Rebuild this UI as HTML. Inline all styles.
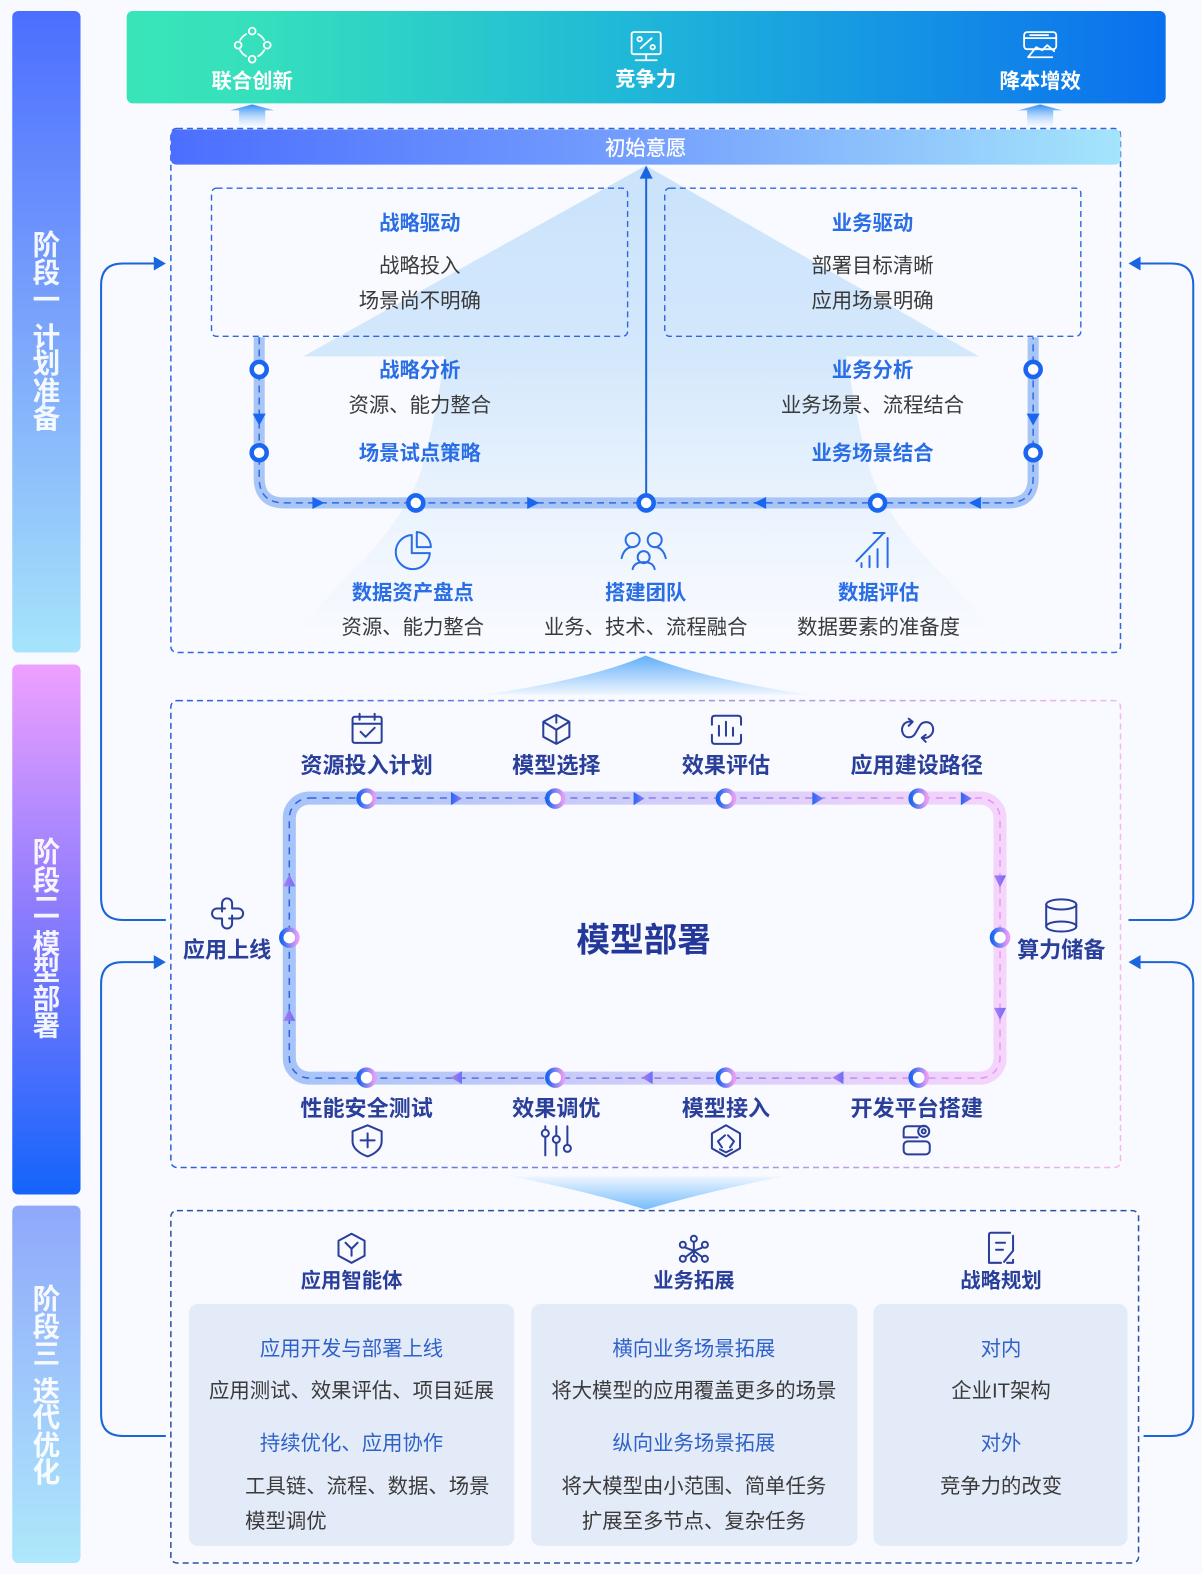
<!DOCTYPE html>
<html><head><meta charset="utf-8"><style>
html,body{margin:0;padding:0;background:#f8faff;width:1202px;height:1574px;overflow:hidden}
svg{display:block}
text{font-family:"Liberation Sans","Noto Sans CJK SC",sans-serif;text-anchor:middle;dominant-baseline:central;transform:translateY(1.4px)}
.b{font-size:20.3px;fill:#3a3a3a}
.h{font-size:20.3px;font-weight:700;fill:#2a6ee6}
.n{font-size:22px;font-weight:700;fill:#2a3f9a}
.t{font-size:20.3px;fill:#2f62c8}
.w{font-size:20.3px;font-weight:700;fill:#fff}
.s{font-size:27.5px;font-weight:700;fill:#fff;fill-opacity:.92;transform:none}
.i{fill:none;stroke:#2a3f9a;stroke-width:2;stroke-linecap:round;stroke-linejoin:round}
.ib{fill:none;stroke:#2a6ee6;stroke-width:2;stroke-linecap:round;stroke-linejoin:round}
.iw{fill:none;stroke:#fff;stroke-width:1.8;stroke-linecap:round;stroke-linejoin:round}
.r1{fill:#fff;stroke:#1a66f0;stroke-width:4.5}
.r2{fill:#fff;stroke:url(#rg);stroke-width:4.5}
</style></head><body>
<svg width="1202" height="1574" viewBox="0 0 1197 1568" xmlns="http://www.w3.org/2000/svg">
<defs>
<linearGradient id="s1" x1="0" y1="0" x2="0" y2="1"><stop offset="0" stop-color="#4c6eff"/><stop offset=".5" stop-color="#7ba5fb"/><stop offset="1" stop-color="#a6e4fb"/></linearGradient>
<linearGradient id="s2" x1="0" y1="0" x2="0" y2="1"><stop offset="0" stop-color="#eea0ff"/><stop offset=".45" stop-color="#8f7dfd"/><stop offset="1" stop-color="#1464fb"/></linearGradient>
<linearGradient id="s3" x1="0" y1="0" x2="0" y2="1"><stop offset="0" stop-color="#8fa8fb"/><stop offset="1" stop-color="#aee8fb"/></linearGradient>
<linearGradient id="top" x1="0" y1="0" x2="1" y2="0"><stop offset="0" stop-color="#38e5b8"/><stop offset=".12" stop-color="#36e0bc"/><stop offset=".5" stop-color="#1fb6d9"/><stop offset="1" stop-color="#0a70ee"/></linearGradient>
<linearGradient id="hd" x1="0" y1="0" x2="1" y2="0"><stop offset="0" stop-color="#4c6eff"/><stop offset=".5" stop-color="#75a0fd"/><stop offset="1" stop-color="#a5e5fb"/></linearGradient>
<linearGradient id="up" x1="0" y1="0" x2="0" y2="1"><stop offset="0" stop-color="#2e8df5"/><stop offset="1" stop-color="#f0f6ff" stop-opacity=".4"/></linearGradient>
<linearGradient id="big" gradientUnits="userSpaceOnUse" x1="0" y1="165" x2="0" y2="640"><stop offset="0" stop-color="#cae3fb"/><stop offset=".4" stop-color="#d4e8fc"/><stop offset=".65" stop-color="#e6f1fd"/><stop offset=".85" stop-color="#f2f7fe"/><stop offset="1" stop-color="#f8faff"/></linearGradient>
<linearGradient id="a1" x1="0" y1="0" x2="0" y2="1"><stop offset="0" stop-color="#62aefa"/><stop offset="1" stop-color="#eef6ff"/></linearGradient>
<linearGradient id="a2" x1="0" y1="0" x2="0" y2="1"><stop offset="0" stop-color="#eef6ff"/><stop offset="1" stop-color="#74bcfb"/></linearGradient>
<linearGradient id="fr" gradientUnits="userSpaceOnUse" x1="170" y1="0" x2="1116" y2="0"><stop offset="0" stop-color="#2a5fd8"/><stop offset="1" stop-color="#f6b8ea"/></linearGradient>
<linearGradient id="lp" gradientUnits="userSpaceOnUse" x1="282" y1="0" x2="1002" y2="0"><stop offset="0" stop-color="#a6c4f8"/><stop offset=".5" stop-color="#d0cdf9"/><stop offset="1" stop-color="#f6d4fc"/></linearGradient>
<linearGradient id="lpd" gradientUnits="userSpaceOnUse" x1="282" y1="0" x2="1002" y2="0"><stop offset="0" stop-color="#2a5fe0"/><stop offset=".55" stop-color="#8d7ef0"/><stop offset="1" stop-color="#e79af0"/></linearGradient>
<linearGradient id="rg" x1="0" y1="0" x2="1" y2="0"><stop offset="0" stop-color="#1a66f0"/><stop offset="1" stop-color="#e79df5"/></linearGradient>
<linearGradient id="tri" x1="0" y1="0" x2="1" y2="0"><stop offset="0" stop-color="#2a66f0"/><stop offset="1" stop-color="#8c7cf8"/></linearGradient>
<linearGradient id="tri2" x1="0" y1="0" x2="1" y2="0"><stop offset="0" stop-color="#b57cf0"/><stop offset="1" stop-color="#6a70f5"/></linearGradient>
</defs>
<rect width="1197" height="1568" fill="#f8faff"/>

<!-- stage bars -->
<rect x="12" y="11" width="68" height="639" rx="6" fill="url(#s1)"/>
<rect x="12" y="662" width="68" height="528" rx="6" fill="url(#s2)"/>
<rect x="12" y="1201" width="68" height="356" rx="6" fill="url(#s3)"/>
<g class="x">
<text class="s" x="46" y="244">阶</text><text class="s" x="46" y="272">段</text><text class="s" x="46" y="299">一</text><text class="s" x="46" y="336">计</text><text class="s" x="46" y="362">划</text><text class="s" x="46" y="390">准</text><text class="s" x="46" y="417">备</text>
<text class="s" x="46" y="849">阶</text><text class="s" x="46" y="877">段</text><text class="s" x="46" y="904">二</text><text class="s" x="46" y="941">模</text><text class="s" x="46" y="967">型</text><text class="s" x="46" y="995">部</text><text class="s" x="46" y="1022">署</text>
<text class="s" x="46" y="1294">阶</text><text class="s" x="46" y="1322">段</text><text class="s" x="46" y="1349">三</text><text class="s" x="46" y="1386">迭</text><text class="s" x="46" y="1412">代</text><text class="s" x="46" y="1440">优</text><text class="s" x="46" y="1467">化</text>
</g>

<!-- top bar -->
<rect x="126" y="11" width="1035" height="92" rx="6" fill="url(#top)"/>
<text class="w" x="251" y="80.500">联合创新</text><text class="w" x="643" y="78.500">竞争力</text><text class="w" x="1036" y="80.500">降本增效</text>
<g class="iw">
<circle cx="251" cy="31" r="3.4"/><circle cx="237" cy="45" r="3.4"/><circle cx="266" cy="45" r="3.4"/><circle cx="251" cy="59" r="3.4"/>
<path d="M245 34 A15 15 0 0 0 239 40M257 34 A15 15 0 0 1 263 40M239 50 A15 15 0 0 0 245 56M263 50 A15 15 0 0 1 257 56"/>
<rect x="629" y="32" width="29" height="22" rx="2"/><path d="M643.500 54V60M633 60H654"/>
<path d="M638 48L649 38"/><circle cx="637" cy="39" r="2.2"/><circle cx="650" cy="47" r="2.2"/>
<rect x="1020" y="32" width="32" height="17" rx="3"/><path d="M1020 38H1052M1026 35H1044"/><path d="M1024 57L1032 47L1038 50L1043 45L1050 51"/><path d="M1024 57H1048"/>
</g>

<!-- small up arrows -->
<path d="M229 110 L251 104 L273 110 L264 110 L264 126 L238 126 L238 110Z" fill="url(#up)"/>
<path d="M1014 110 L1036 104 L1058 110 L1049 110 L1049 126 L1023 126 L1023 110Z" fill="url(#up)"/>

<!-- frame 1 -->
<path d="M643 165 L975 355 L843 355 C848 385 855 430 868 473 C880 505 905 540 937 570 C955 590 975 610 990 630 L296 630 C311 610 331 590 349 570 C381 540 406 505 418 473 C431 430 438 385 443 355 L302 355 Z" fill="url(#big)"/>
<rect x="170" y="128" width="946" height="522" rx="6" fill="none" stroke="#2f68dc" stroke-width="1.5" stroke-dasharray="6 4"/>
<rect x="170" y="129" width="946" height="35" rx="5" fill="url(#hd)"/>
<text class="w" x="643" y="147" style="font-weight:400;stroke:#fff;stroke-width:.3">初始意愿</text>
<rect x="210.500" y="187.500" width="414.500" height="147.500" rx="5" fill="none" stroke="#2f68dc" stroke-width="1.4" stroke-dasharray="6 4"/>
<rect x="662" y="187.500" width="414.500" height="147.500" rx="5" fill="none" stroke="#2f68dc" stroke-width="1.4" stroke-dasharray="6 4"/>

<path d="M258 336 V476 Q258 501 283 501 H1004 Q1029 501 1029 476 V336" fill="none" stroke="#a8c5f5" stroke-width="11"/>
<path d="M258 336 V476 Q258 501 283 501 H1004 Q1029 501 1029 476 V336" fill="none" stroke="#2a6ee6" stroke-width="1.5" stroke-dasharray="7 5"/>
<path d="M643.500 494 V176" stroke="#1a66d8" stroke-width="2" fill="none"/>
<polygon points="643.500,165 637,178 650,178" fill="#1a66e0"/>
<g fill="#1a66f0">
<polygon points="251.500,412 264.500,412 258,424"/><polygon points="1022.500,412 1035.500,412 1029,424"/>
<polygon points="311,495 311,507 323,501"/><polygon points="525,495 525,507 537,501"/>
<polygon points="763,495 763,507 751,501"/><polygon points="977,495 977,507 965,501"/>
</g>
<circle class="r1" cx="258" cy="368" r="7.5"/><circle class="r1" cx="258" cy="451" r="7.5"/>
<circle class="r1" cx="1029" cy="368" r="7.5"/><circle class="r1" cx="1029" cy="451" r="7.5"/>
<circle class="r1" cx="414" cy="501" r="7.5"/><circle class="r1" cx="643.500" cy="501" r="7.5"/><circle class="r1" cx="874" cy="501" r="7.5"/>

<text class="h" x="418" y="222">战略驱动</text><text class="b" x="418" y="264">战略投入</text><text class="b" x="418" y="299">场景尚不明确</text>
<text class="h" x="869" y="222">业务驱动</text><text class="b" x="869" y="264">部署目标清晰</text><text class="b" x="869" y="299">应用场景明确</text>
<text class="h" x="418" y="368">战略分析</text><text class="b" x="418" y="403">资源、能力整合</text><text class="h" x="418" y="451">场景试点策略</text>
<text class="h" x="869" y="368">业务分析</text><text class="b" x="869" y="403">业务场景、流程结合</text><text class="h" x="869" y="451">业务场景结合</text>
<text class="h" x="411" y="590">数据资产盘点</text><text class="b" x="411" y="624">资源、能力整合</text>
<text class="h" x="643" y="590">搭建团队</text><text class="b" x="643" y="624">业务、技术、流程融合</text>
<text class="h" x="875" y="590">数据评估</text><text class="b" x="875" y="624">数据要素的准备度</text>

<g class="ib">
<path d="M410 533 A17 17 0 1 0 428 551 H410Z"/><path d="M415 530 A15 15 0 0 1 429 545 H415Z"/>
<circle cx="630" cy="538" r="7"/><circle cx="652" cy="538" r="7"/><circle cx="641" cy="555" r="6"/>
<path d="M619 556 C621 548 625 545 630 545 M663 556 C661 548 657 545 652 545 M630 567 C631 562 635 560 641 560 C647 560 651 562 652 567"/>
<path d="M853 559 L880 531 M870 531 H881"/><path d="M858 565V561M866 565V554M874 565V547M884 565V536" stroke-width="2"/>
</g>

<!-- arrow between 1/2 -->
<path d="M643 653 Q700 676 805 692 L482 692 Q590 676 643 653Z" fill="url(#a1)"/>

<!-- frame 2 -->
<rect x="170" y="698" width="946" height="465" rx="6" fill="none" stroke="url(#fr)" stroke-width="1.5" stroke-dasharray="6 4"/>
<rect x="288" y="795" width="708" height="279" rx="20" fill="none" stroke="url(#lp)" stroke-width="13"/>
<rect x="288" y="795" width="708" height="279" rx="20" fill="none" stroke="url(#lpd)" stroke-width="1.500" stroke-dasharray="7 6"/>
<g fill="url(#tri)">
<polygon points="449,789 449,802 460,795.500"/><polygon points="631,789 631,802 642,795.500"/><polygon points="809,789 809,802 820,795.500"/><polygon points="957,789 957,802 968,795.500"/>
</g>
<g fill="url(#tri2)">
<polygon points="460,1067 460,1080 449,1073.500"/><polygon points="650,1067 650,1080 639,1073.500"/><polygon points="840,1067 840,1080 829,1073.500"/>
<polygon points="990,872 1002,872 996,884"/><polygon points="990,1004 1002,1004 996,1016"/>
<polygon points="282,883 294,883 288,871"/><polygon points="282,1017 294,1017 288,1005"/>
</g>
<circle class="r2" cx="365" cy="795.500" r="8"/><circle class="r2" cx="553" cy="795.500" r="8"/><circle class="r2" cx="723" cy="795.500" r="8"/><circle class="r2" cx="915" cy="795.500" r="8"/>
<circle class="r2" cx="365" cy="1073.500" r="8"/><circle class="r2" cx="553" cy="1073.500" r="8"/><circle class="r2" cx="723" cy="1073.500" r="8"/><circle class="r2" cx="915" cy="1073.500" r="8"/>
<circle class="r2" cx="288" cy="934" r="8"/><circle class="r2" cx="996" cy="934" r="8"/>

<text class="n" x="365" y="761">资源投入计划</text><text class="n" x="554" y="761">模型选择</text><text class="n" x="723" y="761">效果评估</text><text class="n" x="913" y="761">应用建设路径</text>
<text class="n" x="365" y="1103">性能安全测试</text><text class="n" x="554" y="1103">效果调优</text><text class="n" x="723" y="1103">模型接入</text><text class="n" x="913" y="1103">开发平台搭建</text>
<text class="n" x="226" y="945">应用上线</text><text class="n" x="1057" y="945">算力储备</text>
<text x="641" y="936" style="font-size:33.500px;font-weight:700;fill:#24389a">模型部署</text>

<g class="i">
<rect x="351" y="714" width="29" height="26" rx="2"/><path d="M351 721H380M358 711V717M373 711V717M359 729L364 734L373 725"/>
<path d="M554 712 L567 719 V734 L554 741 L541 734 V719Z M554 727V741M554 727L541 719M554 727L567 719 M554 712V720"/>
<path d="M709 722V716Q709 713 712 713H735Q738 713 738 716V722M709 732V738Q709 741 712 741H735Q738 741 738 738V732M716 723V733M723 719V733M730 725V733"/>
<path d="M908 719 C900 718 897 725 899 730 C901 736 909 736 912 730 L916 723 C919 718 927 718 929 724 C931 731 925 736 919 735"/><path d="M905 716L909 719L905 723M922 732L918 735L922 739"/>
<path d="M351 1127L366 1121L380 1127V1137C380 1145 372 1150 366 1152C360 1150 351 1145 351 1137ZM359 1136H373M366 1129V1143"/>
<circle cx="543" cy="1129" r="3.500"/><path d="M543 1133V1151M554 1122V1131M554 1139V1151M565 1122V1140M543 1122V1125"/><circle cx="554" cy="1135" r="3.500"/><circle cx="565" cy="1144" r="3.500"/>
<path d="M723 1121L737 1129V1144L723 1152L709 1144V1129Z"/><path d="M722 1131L715 1137L719 1143M725 1131L731 1137L727 1143M717 1145L723 1148L729 1145"/>
<path d="M922 1122H904Q900 1122 900 1126V1133H914"/><circle cx="920" cy="1127" r="5.500"/><circle cx="920" cy="1127" r="2"/><rect x="900" y="1137" width="26" height="13" rx="4"/>
<path d="M221 908 V900 A5 5 0 0 1 231 900 V905 H237 A5 5 0 0 1 237 915 H228"/><path d="M231 912 V920 A5 5 0 0 1 221 920 V915 H216 A5 5 0 0 1 216 905 H224"/>
<ellipse cx="1057" cy="901" rx="15" ry="5"/><path d="M1042 901V923M1072 901V923"/><ellipse cx="1057" cy="923" rx="15" ry="5"/>
<path d="M350 1229L363 1236V1251L350 1258L337 1251V1236Z"/><path d="M344 1238L350 1244L356 1238M350 1244V1251"/>
<circle cx="691" cy="1234" r="3"/><circle cx="680" cy="1240" r="3"/><circle cx="702" cy="1240" r="3"/><circle cx="691" cy="1254" r="3"/><circle cx="680" cy="1254" r="3"/><circle cx="702" cy="1254" r="3"/><path d="M691 1237V1251M691 1246L683 1252M691 1246L699 1252M683 1243L691 1246L699 1243"/>
<path d="M1006 1228H987Q985 1228 985 1230V1258H997M1009 1231V1246M1009 1255V1258H1003M992 1238H1001M992 1245H999M1000 1257L1009 1246"/>
</g>

<!-- arrow between 2/3 -->
<path d="M510 1172 L780 1172 Q700 1188 643 1205 Q590 1188 510 1172Z" fill="url(#a2)"/>

<!-- frame 3 -->
<rect x="170" y="1206" width="964" height="351" rx="6" fill="none" stroke="#30509f" stroke-width="1.5" stroke-dasharray="6 4"/>
<rect x="188" y="1299" width="324" height="241" rx="9" fill="#e4ebf8"/>
<rect x="529" y="1299" width="325" height="241" rx="9" fill="#e4ebf8"/>
<rect x="870" y="1299" width="253" height="241" rx="9" fill="#e4ebf8"/>
<text class="n" x="350" y="1275" style="font-size:20.3px">应用智能体</text><text class="n" x="691" y="1275" style="font-size:20.3px">业务拓展</text><text class="n" x="997" y="1275" style="font-size:20.3px">战略规划</text>
<text class="t" x="350" y="1343">应用开发与部署上线</text><text class="b" x="350" y="1385">应用测试、效果评估、项目延展</text>
<text class="t" x="350" y="1437">持续优化、应用协作</text>
<text class="b" x="244" y="1480" style="text-anchor:start">工具链、流程、数据、场景</text><text class="b" x="244" y="1515" style="text-anchor:start">模型调优</text>
<text class="t" x="691" y="1343">横向业务场景拓展</text><text class="b" x="691" y="1385">将大模型的应用覆盖更多的场景</text>
<text class="t" x="691" y="1437">纵向业务场景拓展</text><text class="b" x="691" y="1480">将大模型由小范围、简单任务</text><text class="b" x="691" y="1515">扩展至多节点、复杂任务</text>
<text class="t" x="997" y="1343">对内</text><text class="b" x="997" y="1385">企业IT架构</text><text class="t" x="997" y="1437">对外</text><text class="b" x="997" y="1480">竞争力的改变</text>

<!-- feedback -->
<g fill="none" stroke="#1a66d8" stroke-width="2">
<path d="M165 916.500 H122 Q100.500 916.500 100.500 895 V284 Q100.500 262.500 122 262.500 H155"/>
<path d="M165 1430.500 H122 Q100.500 1430.500 100.500 1409 V980 Q100.500 958.500 122 958.500 H155"/>
<path d="M1124 916.500 H1167 Q1188.500 916.500 1188.500 895 V284 Q1188.500 262.500 1167 262.500 H1134"/>
<path d="M1139 1430.500 H1167 Q1188.500 1430.500 1188.500 1409 V980 Q1188.500 958.500 1167 958.500 H1134"/>
</g>
<g fill="#1a66e0">
<polygon points="153,255.500 153,269.500 165,262.500"/><polygon points="153,951.500 153,965.500 165,958.500"/>
<polygon points="1136,255.500 1136,269.500 1124,262.500"/><polygon points="1136,951.500 1136,965.500 1124,958.500"/>
</g>
</svg>
</body></html>
